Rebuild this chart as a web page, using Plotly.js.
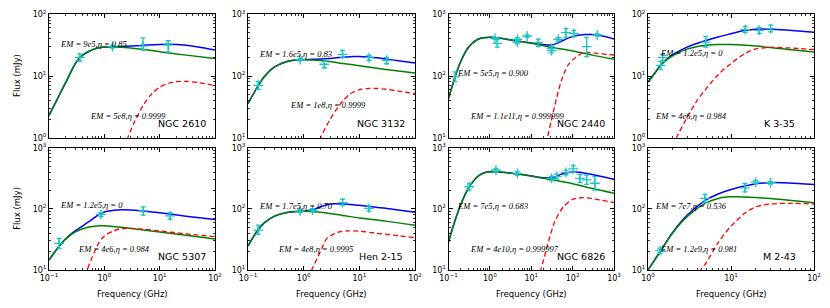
<!DOCTYPE html>
<html><head><meta charset="utf-8">
<script src="https://cdn.plot.ly/plotly-3.0.1.min.js"></script>
<style>html,body{margin:0;padding:0;background:#fff;}#chart{width:830px;height:308px;}</style>
</head><body><div id="chart"></div>
<script>
// ---------------- DATA ----------------
const panelNames = ['NGC 2610','NGC 3132','NGC 2440','K 3-35','NGC 5307','Hen 2-15','NGC 6826','M 2-43'];
const emThinLabels  = ['EM = 9e5,η = 0.85','EM = 1.6e5,η = 0.83','EM = 5e5,η = 0.900','EM = 1.2e5,η = 0','EM = 1.2e5,η = 0','EM = 1.7e5,η = 0.70','EM = 7e5,η = 0.683','EM = 7e7,η = 0.536'];
const emThickLabels = ['EM = 5e8,η = 0.9999','EM = 1e8,η = 0.9999','EM = 1.1e11,η = 0.999999','EM = 4e6,η = 0.984','EM = 4e6,η = 0.984','EM = 4e8,η = 0.9995','EM = 4e10,η = 0.999997','EM = 1.2e9,η = 0.981'];
const tickExp  = [-1, 0, 1, 2, 3];
const tickText = ['10<sup>−1</sup>','10<sup>0</sup>','10<sup>1</sup>','10<sup>2</sup>','10<sup>3</sup>'];

// NGC 2610
const ngc2610_freq  = [0.36, 1.4, 5.0, 14.3];
const ngc2610_flux  = [20, 29.9, 30.6, 31.8];
const ngc2610_errUp = [2.7, 1.5, 11, 5.5];
const ngc2610_errDn = [2.5, 1.5, 4.2, 7.3];
const ngc2610_greenX = [0.1,0.15,0.2,0.3,0.36,0.4,0.5,0.7,1,1.5,3,10,30,100];
const ngc2610_greenY = [2.3,4.7,7.8,16,19.5,21.5,24.5,28,29.5,29.8,28.3,24.8,21.8,19.2];
const ngc2610_blueX  = [0.1,0.15,0.2,0.3,0.36,0.4,0.5,0.7,1,1.5,2,3,5,10,15,20,30,50,100];
const ngc2610_blueY  = [2.3,4.7,7.8,16,19.5,21.5,24.5,28,29.5,29.9,30.0,30.5,31.5,32.3,32.6,32.5,31.5,29.5,26.3];
const ngc2610_redX   = [2.3,2.65,3.5,5,7,10,15,20,30,50,100];
const ngc2610_redY   = [0.7,1.0,1.8,3.3,5.0,6.6,7.7,8.1,8.2,7.8,7.0];

// NGC 3132
const ngc3132_freq  = [0.153, 0.86, 2.35, 5.0, 14.9, 30.9];
const ngc3132_flux  = [70.5, 184, 155, 224, 198, 180];
const ngc3132_errUp = [11, 8, 17, 37, 18, 20];
const ngc3132_errDn = [10, 8, 19, 25, 21, 22];
const ngc3132_greenX = [0.1,0.15,0.2,0.3,0.5,0.7,1,2,5,10,30,100];
const ngc3132_greenY = [35.6,68,100,140,172,182,184,178,160,147,128,112];
const ngc3132_blueX  = [0.1,0.15,0.2,0.3,0.5,0.7,1,1.5,2,3,5,8,10,20,30,50,100];
const ngc3132_blueY  = [35.6,68,100,140,172,182,185,186,188,193,201,207,207,198,189,177,162];
const ngc3132_redX   = [1.7,2.0,3,4,5,7,10,15,20,30,50,100];
const ngc3132_redY   = [7,10,20,30,39,52,60,63,63,61,57,52];

// NGC 2440
const ngc2440_freq  = [0.144, 1.33, 1.51, 4.6, 4.6, 8.0, 14.8, 31, 31, 45, 69, 107, 218, 393];
const ngc2440_flux  = [97, 408, 339, 394, 352, 445, 347, 281, 257, 394, 503, 492, 299, 462];
const ngc2440_errUp = [20, 15, 50, 25, 20, 20, 50, 20, 20, 25, 90, 55, 125, 20];
const ngc2440_errDn = [16, 15, 45, 25, 20, 20, 45, 20, 20, 25, 80, 55, 93, 20];
const ngc2440_greenX = [0.1,0.12,0.15,0.2,0.3,0.5,0.7,1,1.5,3,10,30,100,300,1000];
const ngc2440_greenY = [43.5,65,105,175,290,390,418,424,418,388,340,292,255,218,187];
const ngc2440_blueX  = [0.1,0.12,0.15,0.2,0.3,0.5,0.7,1,1.5,3,10,20,30,40,60,80,100,150,200,300,500,1000];
const ngc2440_blueY  = [43.5,65,105,175,290,390,418,424,418,388,342,322,318,335,380,415,438,460,470,470,450,398];
const ngc2440_redX   = [21,25,30,41,54,78,125,180,250,400,1000];
const ngc2440_redY   = [6,10.5,18,43.6,86,151,206,239,240,232,219];

// K 3-35
const k335_freq  = [1.42, 1.5, 4.96, 14.8, 21.9, 30];
const k335_flux  = [14.9, 19.8, 35.5, 56.5, 55, 58.7];
const k335_errUp = [2.4, 2.7, 8.5, 6.5, 7, 8];
const k335_errDn = [2.1, 2.3, 6, 5.5, 6, 6.7];
const k335_greenX = [1,1.2,1.4,1.7,2,3,5,7,10,20,50,100];
const k335_greenY = [8,11,14.5,18.5,21.5,27.5,31.5,32.5,32.3,30.5,27,24.5];
const k335_blueX  = [1,1.2,1.4,1.7,2,3,5,7,10,15,20,30,50,100];
const k335_blueY  = [8,11,14.6,19,22.3,29.7,37.7,43,48.3,55,57.5,57.5,55,51];
const k335_redX   = [2.0,2.2,3,4,5,7,10,15,20,30,50,100];
const k335_redY   = [0.75,1.0,2.2,4.2,6.2,10.5,16,23.5,27.5,29,28.5,26.7];

// NGC 5307
const ngc5307_freq  = [0.152, 0.87, 5.06, 15.4];
const ngc5307_flux  = [27.3, 81, 93, 77];
const ngc5307_errUp = [5.7, 6, 15, 9];
const ngc5307_errDn = [4.7, 6, 14, 9];
const ngc5307_greenX = [0.1,0.15,0.2,0.3,0.5,0.8,1,2,5,10,30,100];
const ngc5307_greenY = [14.6,24,32,42,50,53,53,50,45,42,37,32];
const ngc5307_blueX  = [0.1,0.15,0.2,0.3,0.4,0.5,0.6,0.8,1,1.5,2,3,5,10,30,100];
const ngc5307_blueY  = [14.6,24,32.5,44,52,60,67,81,89,95,97,96,92,86,76,67];
const ngc5307_redX   = [0.45,0.5,0.6,0.8,1,1.5,2,3,5,10,30,100];
const ngc5307_redY   = [8,10.5,16,28,36,44,47.5,48,46.5,43.5,39,35];

// Hen 2-15
const hen215_freq  = [0.153, 0.86, 1.45, 5.0, 14.9];
const hen215_flux  = [45, 92, 95, 126, 102];
const hen215_errUp = [9, 5, 6, 17, 9];
const hen215_errDn = [6.5, 5, 6, 11, 9];
const hen215_greenX = [0.1,0.15,0.2,0.3,0.5,1,2,5,10,30,100];
const hen215_greenY = [24.6,45,60,76,87,91,88,78,71,63,54];
const hen215_blueX  = [0.1,0.15,0.2,0.3,0.5,1,1.5,2,3,5,7,10,20,30,50,100];
const hen215_blueY  = [24.6,45,60,76,87,92,98,108,120,120,118,114,106,102,95.5,88];
const hen215_redX   = [1.2,1.39,2,2.6,3,4,6,10,20,50,100];
const hen215_redY   = [7.4,10,20,32.9,36,41,43.5,43,40,36.5,33.7];

// NGC 6826
const ngc6826_freq  = [0.318, 1.4, 4.6, 31, 41, 69, 104, 150, 218, 344];
const ngc6826_flux  = [230, 432, 381, 316, 336, 396, 449, 316, 297, 262];
const ngc6826_errUp = [25, 25, 25, 25, 35, 35, 60, 51, 61, 74];
const ngc6826_errDn = [25, 25, 25, 25, 30, 35, 55, 44, 45, 59];
const ngc6826_greenX = [0.1,0.15,0.2,0.3,0.5,0.7,1,1.5,3,10,30,100,300,1000];
const ngc6826_greenY = [29,70,120,215,335,385,403,403,385,345,300,258,215,180];
const ngc6826_blueX  = [0.1,0.15,0.2,0.3,0.5,0.7,1,1.5,3,10,20,30,40,50,70,100,150,200,300,500,1000];
const ngc6826_blueY  = [29,70,120,215,335,385,403,403,385,345,322,320,335,363,387,401,395,382,363,337,305];
const ngc6826_redX   = [14,17,20,25,37,60,100,160,250,400,1000];
const ngc6826_redY   = [7,10,15,26,62,108,143,152,150,142,127];

// M 2-43
const m243_freq  = [1.4, 4.86, 14.7, 19.8, 30];
const m243_flux  = [20.7, 148, 221, 273, 267];
const m243_errUp = [2, 24, 39, 15, 12];
const m243_errDn = [2, 21, 31, 15, 12];
const m243_greenX = [1,1.4,2,3,5,7,10,15,20,30,50,100];
const m243_greenY = [10,20,41,76,125,148,157,156,153,148,138,126];
const m243_blueX  = [1,1.4,2,3,5,7,10,15,20,30,50,100];
const m243_blueY  = [10,20,42,80,140,175,207,238,258,268,265,250];
const m243_redX   = [3.8,4.3,5,7,10,15,20,30,50,100];
const m243_redY   = [7,10,13,28,52,87,108,120,123,120];

// ---------------- build ----------------
const panelData = [
  [ngc2610_freq,ngc2610_flux,ngc2610_errUp,ngc2610_errDn,ngc2610_greenX,ngc2610_greenY,ngc2610_blueX,ngc2610_blueY,ngc2610_redX,ngc2610_redY],
  [ngc3132_freq,ngc3132_flux,ngc3132_errUp,ngc3132_errDn,ngc3132_greenX,ngc3132_greenY,ngc3132_blueX,ngc3132_blueY,ngc3132_redX,ngc3132_redY],
  [ngc2440_freq,ngc2440_flux,ngc2440_errUp,ngc2440_errDn,ngc2440_greenX,ngc2440_greenY,ngc2440_blueX,ngc2440_blueY,ngc2440_redX,ngc2440_redY],
  [k335_freq,k335_flux,k335_errUp,k335_errDn,k335_greenX,k335_greenY,k335_blueX,k335_blueY,k335_redX,k335_redY],
  [ngc5307_freq,ngc5307_flux,ngc5307_errUp,ngc5307_errDn,ngc5307_greenX,ngc5307_greenY,ngc5307_blueX,ngc5307_blueY,ngc5307_redX,ngc5307_redY],
  [hen215_freq,hen215_flux,hen215_errUp,hen215_errDn,hen215_greenX,hen215_greenY,hen215_blueX,hen215_blueY,hen215_redX,hen215_redY],
  [ngc6826_freq,ngc6826_flux,ngc6826_errUp,ngc6826_errDn,ngc6826_greenX,ngc6826_greenY,ngc6826_blueX,ngc6826_blueY,ngc6826_redX,ngc6826_redY],
  [m243_freq,m243_flux,m243_errUp,m243_errDn,m243_greenX,m243_greenY,m243_blueX,m243_blueY,m243_redX,m243_redY]
];

const W = 830, H = 308;
const colPix = [[49,215],[248,415],[448.5,614],[648,814]];
const rowPix = [[14.3,137.7],[147.7,270]];
const xDec = [[-1,2],[-1,2],[-1,3],[0,2],[-1,2],[-1,2],[-1,3],[0,2]];
const yDec = [[0,2],[1,3],[1,3],[0,2],[1,3],[1,3],[1,3],[1,3]];
const emThinPos  = [[58,44],[257,54],[455,73],[658,53],[58,205],[257,206],[455,206],[653,206]];
const emThickPos = [[88,116],[288,105],[468,116],[653,116],[76,249],[276,249],[468,249],[658,249]];
const namePos    = [[208,123],[407,123],[607,123],[797,123],[208,256],[405,256],[607,256],[798,256]];

const fx = p => p / W;
const fy = p => 1 - p / H;
const CYAN = '#1cc4c4';

function ticksFor(dec) {
  const vals = [], txt = [], minor = [];
  for (let e = dec[0]; e <= dec[1]; e++) { vals.push(Math.pow(10, e)); txt.push(tickText[tickExp.indexOf(e)]); }
  for (let e = dec[0]; e < dec[1]; e++) for (let m = 2; m <= 9; m++) minor.push(m * Math.pow(10, e));
  return {vals, txt, minor};
}
function axis(dom, dec, showLabels, anchor) {
  const t = ticksFor(dec);
  return {
    type: 'log', domain: dom, range: dec, anchor: anchor,
    showline: true, linecolor: '#000', linewidth: 1, mirror: 'allticks',
    ticks: 'inside', ticklen: 4, tickwidth: 1, tickcolor: '#000',
    tickmode: 'array', tickvals: t.vals, ticktext: t.txt,
    showticklabels: showLabels,
    tickfont: {family: 'DejaVu Sans', size: 8, color: '#000'},
    minor: {ticks: 'inside', ticklen: 2, tickwidth: 0.8, tickcolor: '#000', tickmode: 'array', tickvals: t.minor, showgrid: false},
    showgrid: false, zeroline: false, fixedrange: true
  };
}

const traces = [];
const layout = {
  width: W, height: H, margin: {l: 0, r: 0, t: 0, b: 0},
  paper_bgcolor: '#fff', plot_bgcolor: '#fff', showlegend: false,
  annotations: []
};

for (let i = 0; i < 8; i++) {
  const col = i % 4, row = Math.floor(i / 4);
  const xa = i === 0 ? 'x' : 'x' + (i + 1);
  const ya = i === 0 ? 'y' : 'y' + (i + 1);
  const xd = [fx(colPix[col][0]), fx(colPix[col][1])];
  const yd = [fy(rowPix[row][1]), fy(rowPix[row][0])];
  layout[i === 0 ? 'xaxis' : 'xaxis' + (i + 1)] = axis(xd, xDec[i], row === 1, ya);
  layout[i === 0 ? 'yaxis' : 'yaxis' + (i + 1)] = axis(yd, yDec[i], true, xa);

  const d = panelData[i];
  traces.push({x: d[6], y: d[7], xaxis: xa, yaxis: ya, mode: 'lines', line: {color: '#0000ff', width: 1.5, shape: 'spline', smoothing: 0.8}, hoverinfo: 'skip'});
  traces.push({x: d[4], y: d[5], xaxis: xa, yaxis: ya, mode: 'lines', line: {color: '#008000', width: 1.5, shape: 'spline', smoothing: 0.8}, hoverinfo: 'skip'});
  traces.push({x: d[8], y: d[9], xaxis: xa, yaxis: ya, mode: 'lines', line: {color: '#ff0000', width: 1.3, dash: '5px,3px', shape: 'spline', smoothing: 0.8}, hoverinfo: 'skip'});
  traces.push({x: d[0], y: d[1], xaxis: xa, yaxis: ya, mode: 'markers',
    marker: {symbol: 'cross-thin', size: 7, color: CYAN, line: {color: CYAN, width: 1.3}},
    error_y: {type: 'data', symmetric: false, array: d[2], arrayminus: d[3], color: CYAN, thickness: 1.3, width: 2.5},
    hoverinfo: 'skip'});

  layout.annotations.push({xref: 'paper', yref: 'paper', x: fx(emThinPos[i][0]), y: fy(emThinPos[i][1]), xanchor: 'left', yanchor: 'middle', showarrow: false,
    text: '<i>' + emThinLabels[i] + '</i>', font: {family: 'Liberation Serif', size: 8.5, color: '#000'}});
  layout.annotations.push({xref: 'paper', yref: 'paper', x: fx(emThickPos[i][0]), y: fy(emThickPos[i][1]), xanchor: 'left', yanchor: 'middle', showarrow: false,
    text: '<i>' + emThickLabels[i] + '</i>', font: {family: 'Liberation Serif', size: 8.5, color: '#000'}});
  layout.annotations.push({xref: 'paper', yref: 'paper', x: fx(namePos[i][0]), y: fy(namePos[i][1]), xanchor: 'right', yanchor: 'middle', showarrow: false,
    text: panelNames[i], font: {family: 'DejaVu Sans', size: 9.5, color: '#000'}});
}
// axis titles
for (let row = 0; row < 2; row++) {
  layout.annotations.push({xref: 'paper', yref: 'paper', x: fx(17), y: fy((rowPix[row][0] + rowPix[row][1]) / 2), textangle: -90,
    xanchor: 'center', yanchor: 'middle', showarrow: false, text: 'Flux (mJy)', font: {family: 'DejaVu Sans', size: 8.5, color: '#000'}});
}
for (let col = 0; col < 4; col++) {
  layout.annotations.push({xref: 'paper', yref: 'paper', x: fx((colPix[col][0] + colPix[col][1]) / 2), y: fy(294), xanchor: 'center', yanchor: 'middle',
    showarrow: false, text: 'Frequency (GHz)', font: {family: 'DejaVu Sans', size: 8.5, color: '#000'}});
}

Plotly.newPlot('chart', traces, layout, {staticPlot: true, displayModeBar: false});
</script>
</body></html>
